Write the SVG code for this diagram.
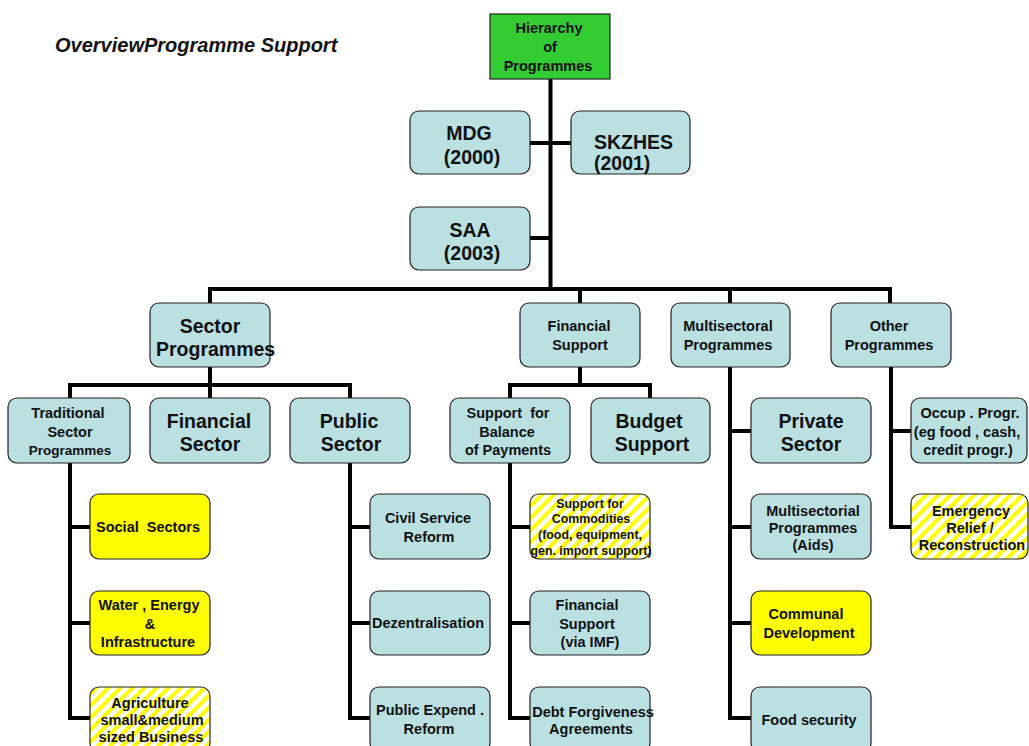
<svg xmlns="http://www.w3.org/2000/svg" width="1029" height="746" viewBox="0 0 1029 746">
<defs>
<pattern id="stripes" width="8.5" height="8.5" patternUnits="userSpaceOnUse" patternTransform="rotate(45)">
<rect width="8.5" height="8.5" fill="#ffffff"/>
<rect width="4" height="8.5" fill="#ffff00"/>
</pattern>
</defs>
<style>
.b{fill:#bae0e2;stroke:#222;stroke-width:1.2}
.y{fill:#ffff00;stroke:#222;stroke-width:1.2}
.s{fill:url(#stripes);stroke:#222;stroke-width:1.2}
.g{fill:#33cc33;stroke:#222;stroke-width:1.2}
text{font-family:"Liberation Sans",Arial,sans-serif;font-weight:bold;fill:#111;text-anchor:middle;dominant-baseline:central}
.t13{font-size:14.5px}
.t11{font-size:12.4px}
.t18{font-size:19.5px}
.c{fill:none;stroke:#000;stroke-width:4;stroke-linecap:square}
</style>
<rect width="1029" height="746" fill="#ffffff"/>
<text x="55" y="45" style="font-size:20px;font-style:italic;text-anchor:start">OverviewProgramme Support</text>
<g id="connectors">
<path class="c" d="M550.5 79V289M530 143H571M530 238H550.5"/>
<path class="c" d="M210 289H890M210 289V303M580 289V303M730 289V303M890 289V303"/>
<path class="c" d="M210 367V385M70 385H350M70 385V398M210 385V398M350 385V398"/>
<path class="c" d="M580 367V385M510 385H650M510 385V398M650 385V398"/>
<path class="c" d="M70 463V718M70 527H90M70 623H90M70 718H90"/>
<path class="c" d="M350 463V718M350 527H370M350 623H370M350 718H370"/>
<path class="c" d="M510 463V718M510 527H530M510 623H530M510 718H530"/>
<path class="c" d="M730 367V718M730 431H751M730 527H751M730 623H751M730 718H751"/>
<path class="c" d="M891 367V527M891 431H911M891 527H911"/>
</g>
<g id="hierarchy"><rect class="g" x="490" y="14" width="120" height="65"/><text class="t13" x="549" y="28">Hierarchy</text><text class="t13" x="550" y="47">of</text><text class="t13" x="548" y="66">Programmes</text></g>
<g id="mdg"><rect class="b" x="410" y="111" width="120" height="63" rx="9"/><text class="t18" x="469" y="133">MDG</text><text class="t18" x="472" y="157">(2000)</text></g>
<g id="skzhes"><rect class="b" x="571" y="111" width="119" height="63" rx="9"/><text class="t18" x="594" y="142" style="text-anchor:start">SKZHES</text><text class="t18" x="594" y="163" style="text-anchor:start">(2001)</text></g>
<g id="saa"><rect class="b" x="410" y="207" width="120" height="63" rx="9"/><text class="t18" x="470" y="230">SAA</text><text class="t18" x="472" y="253">(2003)</text></g>
<g id="sector-programmes"><rect class="b" x="150" y="303" width="120" height="64" rx="9"/><text class="t18" x="210" y="326">Sector</text><text class="t18" x="156" y="349" style="text-anchor:start">Programmes</text></g>
<g id="financial-support"><rect class="b" x="520" y="303" width="120" height="64" rx="9"/><text class="t13" x="579" y="326">Financial</text><text class="t13" x="580" y="345">Support</text></g>
<g id="multisectoral-programmes"><rect class="b" x="671" y="303" width="119" height="64" rx="9"/><text class="t13" x="728" y="326">Multisectoral</text><text class="t13" x="728" y="345">Programmes</text></g>
<g id="other-programmes"><rect class="b" x="831" y="303" width="120" height="64" rx="9"/><text class="t13" x="889" y="326">Other</text><text class="t13" x="889" y="345">Programmes</text></g>
<g id="traditional-sector"><rect class="b" x="8" y="398" width="122" height="65" rx="9"/><text class="t13" x="68" y="413">Traditional</text><text class="t13" x="70" y="432">Sector</text><text x="70" y="450" style="font-size:13.5px">Programmes</text></g>
<g id="financial-sector"><rect class="b" x="150" y="398" width="120" height="65" rx="9"/><text class="t18" x="209" y="421">Financial</text><text class="t18" x="210" y="444">Sector</text></g>
<g id="public-sector"><rect class="b" x="290" y="398" width="120" height="65" rx="9"/><text class="t18" x="349" y="421">Public</text><text class="t18" x="351" y="444">Sector</text></g>
<g id="balance-of-payments"><rect class="b" x="450" y="398" width="120" height="65" rx="9"/><text class="t13" x="508" y="413" style="white-space:pre">Support  for</text><text class="t13" x="507" y="432">Balance</text><text class="t13" x="508" y="450">of Payments</text></g>
<g id="budget-support"><rect class="b" x="591" y="398" width="119" height="65" rx="9"/><text class="t18" x="649" y="421">Budget</text><text class="t18" x="652" y="444">Support</text></g>
<g id="private-sector"><rect class="b" x="751" y="398" width="120" height="65" rx="9"/><text class="t18" x="811" y="421">Private</text><text class="t18" x="811" y="444">Sector</text></g>
<g id="occup-progr"><rect class="b" x="911" y="398" width="116" height="65" rx="9"/><text class="t13" x="970" y="413">Occup . Progr.</text><text class="t13" x="967" y="432">(eg food , cash,</text><text class="t13" x="968" y="450">credit progr.)</text></g>
<g id="social-sectors"><rect class="y" x="90" y="494" width="120" height="65" rx="9"/><text class="t13" x="148" y="527" style="white-space:pre">Social  Sectors</text></g>
<g id="water-energy"><rect class="y" x="90" y="591" width="120" height="64" rx="9"/><text class="t13" x="149" y="605">Water , Energy</text><text class="t13" x="150" y="624">&amp;</text><text class="t13" x="148" y="642">Infrastructure</text></g>
<g id="agriculture"><rect class="s" x="90" y="687" width="120" height="65" rx="9"/><text class="t13" x="150" y="703">Agriculture</text><text class="t13" x="152" y="720">small&amp;medium</text><text class="t13" x="151" y="737">sized Business</text></g>
<g id="civil-service"><rect class="b" x="370" y="494" width="120" height="65" rx="9"/><text class="t13" x="428" y="518">Civil Service</text><text class="t13" x="429" y="537">Reform</text></g>
<g id="dezentralisation"><rect class="b" x="370" y="591" width="120" height="64" rx="9"/><text class="t13" x="428" y="623">Dezentralisation</text></g>
<g id="public-expend"><rect class="b" x="370" y="687" width="120" height="65" rx="9"/><text class="t13" x="430" y="710">Public Expend .</text><text class="t13" x="429" y="729">Reform</text></g>
<g id="commodities"><rect class="s" x="530" y="494" width="120" height="65" rx="9"/><text class="t11" x="590" y="504">Support for</text><text class="t11" x="591" y="519">Commodities</text><text class="t11" x="590" y="535">(food, equipment,</text><text class="t11" x="591" y="551">gen. import support)</text></g>
<g id="financial-support-imf"><rect class="b" x="530" y="591" width="120" height="64" rx="9"/><text class="t13" x="587" y="605">Financial</text><text class="t13" x="587" y="624">Support</text><text class="t13" x="590" y="642">(via IMF)</text></g>
<g id="debt-forgiveness"><rect class="b" x="530" y="687" width="120" height="65" rx="9"/><text class="t13" x="593" y="712">Debt Forgiveness</text><text class="t13" x="591" y="729">Agreements</text></g>
<g id="multisectorial-aids"><rect class="b" x="751" y="494" width="120" height="65" rx="9"/><text class="t13" x="813" y="511">Multisectorial</text><text class="t13" x="813" y="528">Programmes</text><text class="t13" x="813" y="545">(Aids)</text></g>
<g id="communal-development"><rect class="y" x="751" y="591" width="120" height="64" rx="9"/><text class="t13" x="806" y="614">Communal</text><text class="t13" x="809" y="633">Development</text></g>
<g id="food-security"><rect class="b" x="751" y="687" width="120" height="65" rx="9"/><text class="t13" x="809" y="720">Food security</text></g>
<g id="emergency-relief"><rect class="s" x="911" y="494" width="117" height="65" rx="9"/><text class="t13" x="971" y="511">Emergency</text><text class="t13" x="970" y="528">Relief /</text><text class="t13" x="972" y="545">Reconstruction</text></g>
</svg>
